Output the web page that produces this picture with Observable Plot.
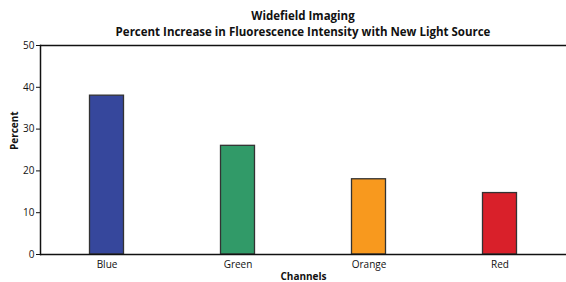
<!DOCTYPE html>
<html>
<head>
<meta charset="utf-8">
<script src="https://cdn.jsdelivr.net/npm/d3@7"></script>
<script src="https://cdn.jsdelivr.net/npm/@observablehq/plot@0.6"></script>
<style>
  html, body { margin: 0; padding: 0; background: #fff; overflow: hidden; }
  body { width: 566px; height: 282px; font-family: "Open Sans", sans-serif; }
  #title { height: 30px; box-sizing: border-box; padding-top: 8px; padding-left: 40px; text-align: center; font-weight: bold; font-size: 11.5px; line-height: 16px; color: #111; overflow: visible; white-space: nowrap; }
</style>
</head>
<body>
<div id="title"><div>Widefield Imaging</div><div>Percent Increase in Fluorescence Intensity with New Light Source</div></div>
<div id="chart"></div>
<script>
const channels = ["Blue", "Green", "Orange", "Red"];
const percent = [38, 26, 18, 14.7];
const colors = ["#36479c", "#319a68", "#f8991e", "#d9202a"];
const yTicks = [0, 10, 20, 30, 40, 50];
const xLabel = "Channels";
const yLabel = "Percent";

const data = channels.map((c, i) => ({channel: c, value: percent[i], color: colors[i]}));

const chart = Plot.plot({
  width: 566,
  height: 252,
  marginTop: 15,
  marginBottom: 28,
  marginLeft: 40,
  marginRight: 0,
  style: {fontFamily: "Open Sans, sans-serif", fontSize: "10px", color: "#111", overflow: "visible"},
  x: {domain: channels, padding: 0, label: null},
  y: {domain: [0, 50], ticks: yTicks, label: null},
  marks: [
    Plot.barY(data, {x: "channel", y: "value", fill: "color", stroke: "#333", strokeWidth: 1.3, insetLeft: 48.5, insetRight: 48.5}),
    Plot.ruleY([0, 50], {stroke: "#111", strokeWidth: 1.5}),
    Plot.frame({anchor: "left", stroke: "#111", strokeWidth: 1.5}),
    Plot.axisY({ticks: yTicks, tickSize: 4, tickPadding: 2, label: null}),
    Plot.axisX({tickSize: 0, tickPadding: 6, label: null}),
    Plot.text([xLabel], {frameAnchor: "bottom", dy: 25, fontWeight: "bold", fontSize: 10}),
    Plot.text([yLabel], {frameAnchor: "left", dx: -26, rotate: -90, fontWeight: "bold", fontSize: 10})
  ]
});
document.getElementById("chart").appendChild(chart);
</script>
</body>
</html>
